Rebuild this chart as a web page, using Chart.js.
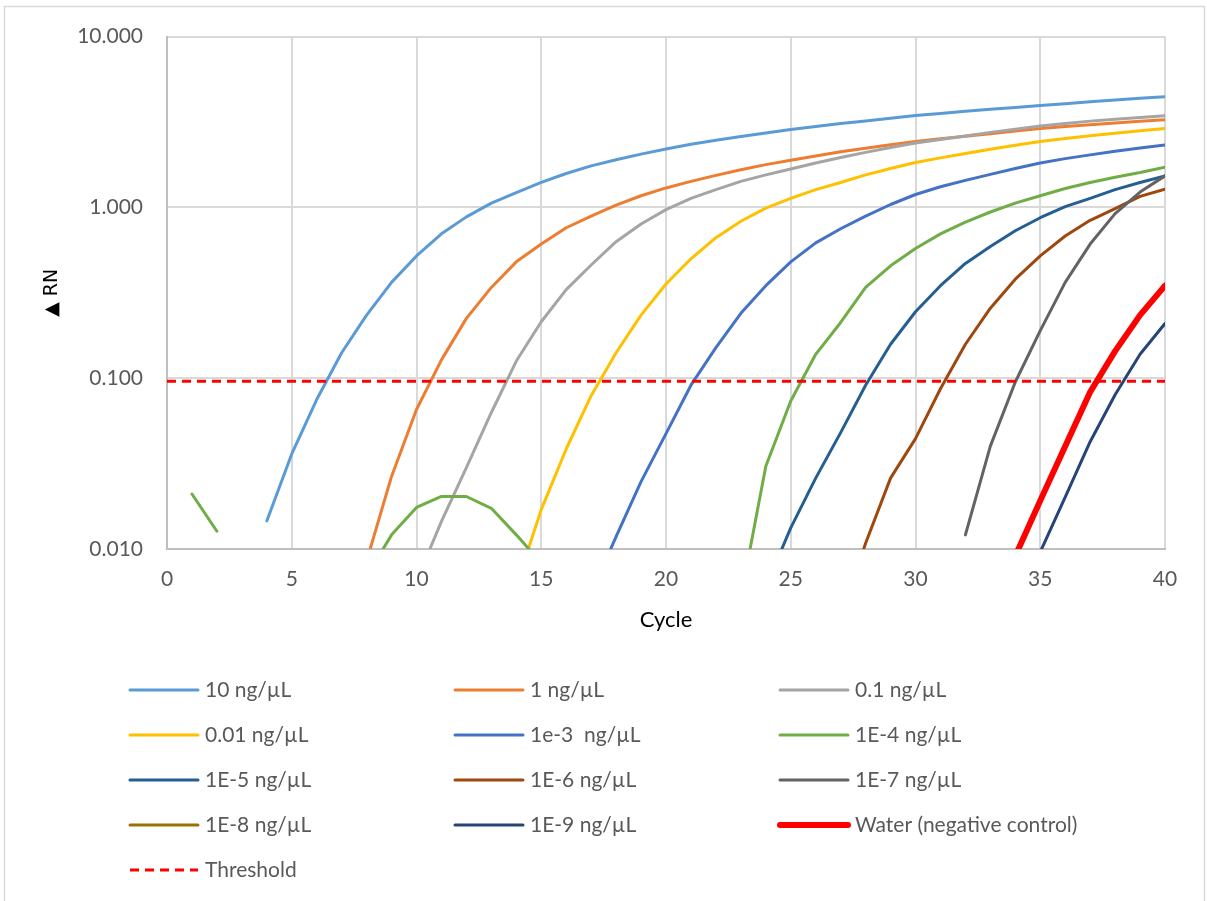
<!DOCTYPE html>
<html><head><meta charset="utf-8">
<script src="https://cdn.jsdelivr.net/npm/chart.js@4.4.1/dist/chart.umd.min.js"></script>
<style>html,body{margin:0;padding:0;background:#fff}canvas{display:block}</style>
</head><body>
<canvas id="c" width="1207" height="901"></canvas>
<script>
const cycles = [1,2,3,4,5,6,7,8,9,10,11,12,13,14,15,16,17,18,19,20,21,22,23,24,25,26,27,28,29,30,31,32,33,34,35,36,37,38,39,40];
const xTicks = [0,5,10,15,20,25,30,35,40];
const yTicks = [0.01,0.1,1,10];

const seriesNames = ['10 ng/\u00b5L','1 ng/\u00b5L','0.1 ng/\u00b5L','0.01 ng/\u00b5L','1e-3  ng/\u00b5L','1E-4 ng/\u00b5L','1E-5 ng/\u00b5L','1E-6 ng/\u00b5L','1E-7 ng/\u00b5L','1E-8 ng/\u00b5L','1E-9 ng/\u00b5L','Water (negative control)'];

const s10ng = [null,null,null,0.0146,0.036,0.075,0.141,0.234,0.364,0.52,0.70,0.88,1.06,1.22,1.40,1.58,1.75,1.90,2.05,2.20,2.34,2.47,2.60,2.73,2.86,2.98,3.10,3.21,3.33,3.45,3.55,3.65,3.75,3.85,3.95,4.05,4.15,4.25,4.35,4.45];
const s1ng = [null,null,null,null,null,null,null,0.0085,0.0266,0.0656,0.128,0.224,0.34,0.48,0.61,0.76,0.89,1.03,1.17,1.30,1.42,1.54,1.66,1.78,1.89,2.00,2.12,2.22,2.33,2.43,2.52,2.61,2.70,2.80,2.90,2.98,3.05,3.12,3.19,3.26];
const s01ng = [null,null,null,null,null,null,null,null,null,0.0065,0.0145,0.030,0.063,0.126,0.214,0.33,0.46,0.63,0.80,0.97,1.13,1.27,1.42,1.55,1.68,1.82,1.96,2.10,2.24,2.38,2.50,2.62,2.75,2.87,3.00,3.10,3.20,3.28,3.36,3.44];
const s001ng = [null,null,null,null,null,null,null,null,null,null,null,null,null,0.0061,0.017,0.0385,0.079,0.141,0.234,0.356,0.50,0.665,0.83,0.99,1.13,1.27,1.40,1.55,1.69,1.83,1.95,2.07,2.19,2.31,2.43,2.53,2.63,2.72,2.81,2.90];
const s1e3 = [null,null,null,null,null,null,null,null,null,null,null,null,null,null,null,null,0.0055,0.0118,0.0248,0.0474,0.091,0.151,0.24,0.348,0.48,0.62,0.75,0.89,1.04,1.19,1.32,1.44,1.56,1.69,1.82,1.93,2.03,2.13,2.23,2.32];
const s1e4 = [0.021,0.0127,null,null,null,null,null,0.0069,0.0121,0.0175,0.0203,0.0203,0.0173,0.0121,0.0083,null,null,null,null,null,null,null,0.0052,0.0305,0.0736,0.138,0.212,0.34,0.455,0.574,0.70,0.82,0.94,1.06,1.17,1.29,1.40,1.50,1.60,1.72];
const s1e5 = [null,null,null,null,null,null,null,null,null,null,null,null,null,null,null,null,null,null,null,null,null,null,null,0.006,0.0133,0.026,0.048,0.091,0.158,0.245,0.348,0.47,0.59,0.73,0.87,1.01,1.13,1.27,1.40,1.53];
const s1e6 = [null,null,null,null,null,null,null,null,null,null,null,null,null,null,null,null,null,null,null,null,null,null,null,null,null,null,0.004,0.0108,0.026,0.0443,0.0867,0.158,0.257,0.38,0.52,0.68,0.84,0.985,1.16,1.28];
const s1e7 = [null,null,null,null,null,null,null,null,null,null,null,null,null,null,null,null,null,null,null,null,null,null,null,null,null,null,null,null,null,null,null,0.0121,0.040,0.095,0.19,0.364,0.61,0.92,1.23,1.53];
const s1e8 = [null,null,null,null,null,null,null,null,null,null,null,null,null,null,null,null,null,null,null,null,null,null,null,null,null,null,null,null,null,null,null,null,null,null,null,null,null,null,null,null];
const s1e9 = [null,null,null,null,null,null,null,null,null,null,null,null,null,null,null,null,null,null,null,null,null,null,null,null,null,null,null,null,null,null,null,null,null,null,0.0096,0.0201,0.0425,0.080,0.138,0.209];
const sWater = [null,null,null,null,null,null,null,null,null,null,null,null,null,null,null,null,null,null,null,null,null,null,null,null,null,null,null,null,null,null,null,null,null,0.0091,0.0192,0.040,0.083,0.144,0.234,0.348];

const thresholdCycles = [0,40];
const thresholdValues = [0.096,0.096];

const seriesValues = [s10ng,s1ng,s01ng,s001ng,s1e3,s1e4,s1e5,s1e6,s1e7,s1e8,s1e9,sWater];
const seriesColors = ['#5B9BD5','#ED7D31','#A5A5A5','#FFC000','#4472C4','#70AD47','#255E91','#9E480E','#636363','#997300','#264478','#FF0000'];

const FONT = 'Lato';

const datasets = seriesValues.map((vals,i)=>({
  label: seriesNames[i],
  data: cycles.map((c,j)=>({x:c,y:vals[j]})),
  borderColor: seriesColors[i],
  backgroundColor: seriesColors[i],
  borderWidth: i===11 ? 6 : 3,
  pointRadius: 0,
  tension: 0,
  borderCapStyle: 'round',
  borderJoinStyle: 'round',
  fill: false,
  spanGaps: false,
  order: 30 - i
}));
datasets.push({
  label: 'Threshold',
  data: thresholdCycles.map((c,j)=>({x:c,y:thresholdValues[j]})),
  borderColor: '#FF0000',
  backgroundColor: '#FF0000',
  borderWidth: 3,
  borderDash: [9,6],
  borderCapStyle: 'butt',
  pointRadius: 0,
  fill: false,
  order: 0
});

const framePlugin = {
  id: 'frame',
  beforeDraw(chart){
    const ctx = chart.ctx;
    ctx.save();
    ctx.fillStyle = '#fff';
    ctx.fillRect(0,0,chart.width,chart.height);
    ctx.strokeStyle = '#D9D9D9';
    ctx.lineWidth = 1.5;
    ctx.strokeRect(4.5,6.5,1200,905);
    ctx.restore();
  }
};

const legendPlugin = {
  id: 'gridLegend',
  afterDraw(chart){
    const ctx = chart.ctx;
    const colX = [128,453,778];
    const rowY0 = 690, rowH = 45;
    chart.data.datasets.forEach((ds,i)=>{
      const col = i % 3, row = Math.floor(i/3);
      const x = colX[col], y = rowY0 + row*rowH;
      ctx.save();
      ctx.strokeStyle = ds.borderColor;
      ctx.lineWidth = ds.borderWidth;
      ctx.setLineDash(ds.borderDash || []);
      ctx.lineCap = ds.borderDash ? 'butt' : 'round';
      ctx.beginPath();
      ctx.moveTo(x+2,y);
      ctx.lineTo(x+70,y);
      ctx.stroke();
      ctx.setLineDash([]);
      ctx.fillStyle = '#595959';
      ctx.font = '21px ' + FONT;
      ctx.textBaseline = 'middle';
      ctx.textAlign = 'left';
      ctx.fillText(ds.label, x+77, y);
      ctx.restore();
    });
  }
};

new Chart(document.getElementById('c'), {
  type: 'line',
  data: { datasets },
  plugins: [framePlugin, legendPlugin],
  options: {
    responsive: false,
    devicePixelRatio: 1,
    animation: false,
    layout: { padding: { left: 0, top: 36, right: 42, bottom: 268 } },
    plugins: { legend: { display: false }, tooltip: { enabled: false } },
    scales: {
      x: {
        type: 'linear', min: 0, max: 40,
        afterBuildTicks: s => { s.ticks = xTicks.map(v=>({value:v})); },
        afterFit: s => { s.height = 84; },
        ticks: { color: '#595959', font: { family: FONT, size: 21 }, padding: 18, maxRotation: 0, autoSkip: false },
        grid: { color: '#D9D9D9', lineWidth: 2, drawTicks: false },
        border: { color: '#BFBFBF', width: 2 },
        title: { display: true, text: 'Cycle', color: '#000', font: { family: FONT, size: 22 }, padding: { top: 0, bottom: 0 } }
      },
      y: {
        type: 'logarithmic', min: 0.01, max: 10,
        afterBuildTicks: s => { s.ticks = yTicks.map(v=>({value:v})); },
        afterFit: s => { s.width = 167; },
        ticks: { color: '#595959', font: { family: FONT, size: 21 }, padding: 24, autoSkip: false,
                 callback: v => Number(v).toFixed(3) },
        grid: { color: '#D9D9D9', lineWidth: 2, drawTicks: false },
        border: { color: '#BFBFBF', width: 2 },
        title: { display: true, text: '\u25B2 RN', color: '#000', font: { family: 'DejaVu Sans', size: 19 }, padding: { top: 41, bottom: 0 } }
      }
    }
  }
});
</script>
</body></html>
